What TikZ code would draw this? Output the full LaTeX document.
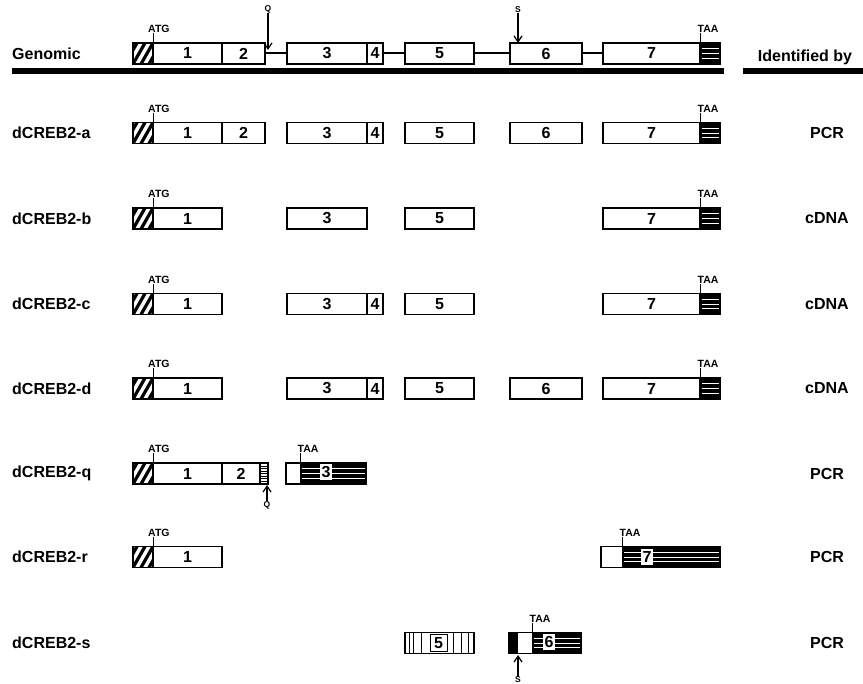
\documentclass[tikz,border=0pt]{standalone}
\usepackage{fontspec}
\setmainfont{Liberation Sans}
\usetikzlibrary{arrows.meta}
\newcommand\hatchbox[2]{%
  \node[exon, minimum width=20pt] (#1) at (133,#2) {};
  \begin{scope}
    \clip (#1.north west) rectangle (#1.south east);
    \foreach \k in {-24,-16,...,24} \draw[line width=3.2pt] (133+\k,#2+10.5) -- ++(12,-21);
  \end{scope}
  \draw[line width=1.3pt] (#1.north west) rectangle (#1.south east);
}
\newcommand\stopbox[4]{% name, x0, width, y
  \node[exon, fill=black, minimum width=#3pt] (#1) at (#2,#4) {};
  \foreach \d in {-5,0,4.5} \draw[white, line width=0.9pt] (#2+1.5,#4+\d) -- (#2+#3-1.5,#4+\d);
}
\newcommand\atgmark[2]{% name, y center
  \coordinate (#1t) at (153,#2-10.5);
  \node[small, anchor=base west] (#1l) at (148,#2-20.5) {ATG};
  \draw[tick] (#1t) -- (#1l.south -| #1t);
}
\newcommand\taamark[3]{% name, x, y center
  \coordinate (#1t) at (#2,#3-10.5);
  \node[small, anchor=base west] (#1l) at (#2-2.5,#3-20.5) {TAA};
  \draw[tick] (#1t) -- (#1l.south -| #1t);
}
\begin{document}
\begin{tikzpicture}[x=1pt,y=-1pt,
  lab/.style={font=\fontsize{16}{18}\selectfont\bfseries, inner sep=0pt},
  small/.style={font=\fontsize{10.5}{12}\selectfont\bfseries, inner sep=0pt},
  tiny/.style={font=\fontsize{8.5}{10}\selectfont\bfseries, inner sep=0pt},
  exon/.style={draw, line width=1.3pt, fill=white, minimum height=21pt, inner sep=0pt, outer sep=0pt, anchor=west, font=\fontsize{16}{18}\selectfont\bfseries},
  wlab/.style={fill=white, inner sep=2pt, font=\fontsize{16}{18}\selectfont\bfseries},
  intron/.style={line width=2pt},
  tick/.style={line width=1pt},
  arr/.style={line width=1.2pt, -{Straight Barb[length=6pt,width=8pt]}},
]
\useasboundingbox (0,0) rectangle (863,684);

% ---------- Genomic ----------
\node[lab, anchor=west] (lG) at (12,53.5) {Genomic};
\hatchbox{gh}{53.5}
\node[exon, minimum width=69pt] (g1) at (153,53.5) {1};
\node[exon, minimum width=43pt] (g2) at (222,53.5) {2};
\node[exon, minimum width=80pt] (g3) at (287,53.5) {3};
\node[exon, minimum width=16pt] (g4) at (367,53.5) {4};
\node[exon, minimum width=69pt] (g5) at (405,53.5) {5};
\node[exon, minimum width=72pt] (g6) at (510,53.5) {6};
\node[exon, minimum width=97pt] (g7) at (603,53.5) {7};
\stopbox{gs}{700}{20}{53.5}
\draw[intron] (g2.east) -- (g3.west);
\draw[intron] (g4.east) -- (g5.west);
\draw[intron] (g5.east) -- (g6.west);
\draw[intron] (g6.east) -- (g7.west);
\atgmark{ga}{53.5}
\taamark{gt}{700}{53.5}
\node[tiny] (gq) at (268,9.5) {Q};
\coordinate (gqt) at (268,50);
\draw[arr] (gq) -- (gqt);
\node[tiny] (gsl) at (518,10) {S};
\coordinate (gst) at (518,43);
\draw[arr] (gsl) -- (gst);
\coordinate (barL) at (12,71);
\coordinate (barR) at (724,71);
\draw[line width=6pt] (barL) -- (barR);
\node[lab, anchor=base] (idby) at (805,62) {Identified by};
\coordinate (bar2L) at (743,71);
\coordinate (bar2R) at (863,71);
\draw[line width=6pt] (bar2L) -- (bar2R);

% ---------- dCREB2-a ----------
\node[lab, anchor=west] (la) at (12,133) {dCREB2-a};
\hatchbox{ah}{133}
\node[exon, minimum width=69pt] (a1) at (153,133) {1};
\node[exon, minimum width=43pt] (a2) at (222,133) {2};
\node[exon, minimum width=80pt] (a3) at (287,133) {3};
\node[exon, minimum width=16pt] (a4) at (367,133) {4};
\node[exon, minimum width=69pt] (a5) at (405,133) {5};
\node[exon, minimum width=72pt] (a6) at (510,133) {6};
\node[exon, minimum width=97pt] (a7) at (603,133) {7};
\stopbox{as}{700}{20}{133}
\atgmark{aa}{133}
\taamark{at}{700}{133}
\node[lab] (ia) at (827,133) {PCR};

% ---------- dCREB2-b ----------
\node[lab, anchor=west] (lb) at (12,218.5) {dCREB2-b};
\hatchbox{bh}{218.5}
\node[exon, minimum width=69pt] (b1) at (153,218.5) {1};
\node[exon, minimum width=80pt] (b3) at (287,218.5) {3};
\node[exon, minimum width=69pt] (b5) at (405,218.5) {5};
\node[exon, minimum width=97pt] (b7) at (603,218.5) {7};
\stopbox{bs}{700}{20}{218.5}
\atgmark{ba}{218.5}
\taamark{bt}{700}{218.5}
\node[lab] (ib) at (827,218.5) {cDNA};

% ---------- dCREB2-c ----------
\node[lab, anchor=west] (lc) at (12,304) {dCREB2-c};
\hatchbox{ch}{304}
\node[exon, minimum width=69pt] (c1) at (153,304) {1};
\node[exon, minimum width=80pt] (c3) at (287,304) {3};
\node[exon, minimum width=16pt] (c4) at (367,304) {4};
\node[exon, minimum width=69pt] (c5) at (405,304) {5};
\node[exon, minimum width=97pt] (c7) at (603,304) {7};
\stopbox{cs}{700}{20}{304}
\atgmark{ca}{304}
\taamark{ct}{700}{304}
\node[lab] (ic) at (827,304) {cDNA};

% ---------- dCREB2-d ----------
\node[lab, anchor=west] (ld) at (12,388.5) {dCREB2-d};
\hatchbox{dh}{388.5}
\node[exon, minimum width=69pt] (d1) at (153,388.5) {1};
\node[exon, minimum width=80pt] (d3) at (287,388.5) {3};
\node[exon, minimum width=16pt] (d4) at (367,388.5) {4};
\node[exon, minimum width=69pt] (d5) at (405,388.5) {5};
\node[exon, minimum width=72pt] (d6) at (510,388.5) {6};
\node[exon, minimum width=97pt] (d7) at (603,388.5) {7};
\stopbox{ds}{700}{20}{388.5}
\atgmark{da}{388.5}
\taamark{dt}{700}{388.5}
\node[lab] (id) at (827,388.5) {cDNA};

% ---------- dCREB2-q ----------
\node[lab, anchor=west] (lq) at (12,473.5) {dCREB2-q};
\hatchbox{qh}{473.5}
\node[exon, minimum width=69pt] (q1) at (153,473.5) {1};
\node[exon, minimum width=38pt] (q2) at (222,473.5) {2};
\node[exon, minimum width=8pt] (qx) at (260,473.5) {};
\foreach \d in {-7.5,-5,...,7.5} \draw[line width=0.5pt] (260,473.5+\d) -- (268,473.5+\d);
\node[exon, minimum width=80pt] (q3) at (286,473.5) {};
\fill[black] (300,463) rectangle (366,484);
\foreach \d in {-5,0,4.5} \draw[white, line width=0.9pt] (301.5,473.5+\d) -- (364.5,473.5+\d);
\draw[line width=1.3pt] (q3.north west) rectangle (q3.south east);
\node[wlab] (q3l) at (326,472) {3};
\atgmark{qa}{473.5}
\taamark{qt}{300}{473.5}
\node[tiny] (qq) at (267,505) {Q};
\coordinate (qqt) at (267,485);
\draw[arr] (qq) -- (qqt);
\node[lab] (iq) at (827,473.5) {PCR};

% ---------- dCREB2-r ----------
\node[lab, anchor=west] (lr) at (12,557) {dCREB2-r};
\hatchbox{rh}{557}
\node[exon, minimum width=69pt] (r1) at (153,557) {1};
\node[exon, minimum width=119pt] (r7) at (601,557) {};
\fill[black] (622,546.5) rectangle (720,567.5);
\foreach \d in {-5,0,4.5} \draw[white, line width=0.9pt] (623.5,557+\d) -- (718.5,557+\d);
\draw[line width=1.3pt] (r7.north west) rectangle (r7.south east);
\node[wlab] (r7l) at (647,557) {7};
\atgmark{ra}{557}
\taamark{rt}{622}{557}
\node[lab] (ir) at (827,557) {PCR};

% ---------- dCREB2-s ----------
\node[lab, anchor=west] (ls) at (12,643) {dCREB2-s};
\node[exon, minimum width=69pt] (s5) at (405,643) {};
\foreach \xx in {409,413,421,453,461,468} \draw[line width=0.8pt] (\xx,632.5) -- (\xx,653.5);
\node[draw, line width=0.8pt, fill=white, minimum width=17pt, minimum height=17pt, inner sep=0pt, font=\fontsize{16}{18}\selectfont\bfseries] (s5l) at (438.5,643) {5};
\node[exon, minimum width=72pt] (s6) at (509,643) {};
\fill[black] (509,632.5) rectangle (518,653.5);
\fill[black] (532,632.5) rectangle (581,653.5);
\foreach \d in {-5,0,4.5} \draw[white, line width=0.9pt] (533.5,643+\d) -- (579.5,643+\d);
\draw[line width=1.3pt] (s6.north west) rectangle (s6.south east);
\node[wlab] (s6l) at (549,642) {6};
\taamark{st}{532}{643}
\node[tiny] (ss) at (518,680) {S};
\coordinate (sst) at (518,655);
\draw[arr] (ss) -- (sst);
\node[lab] (is) at (827,643) {PCR};
\end{tikzpicture}
\end{document}
